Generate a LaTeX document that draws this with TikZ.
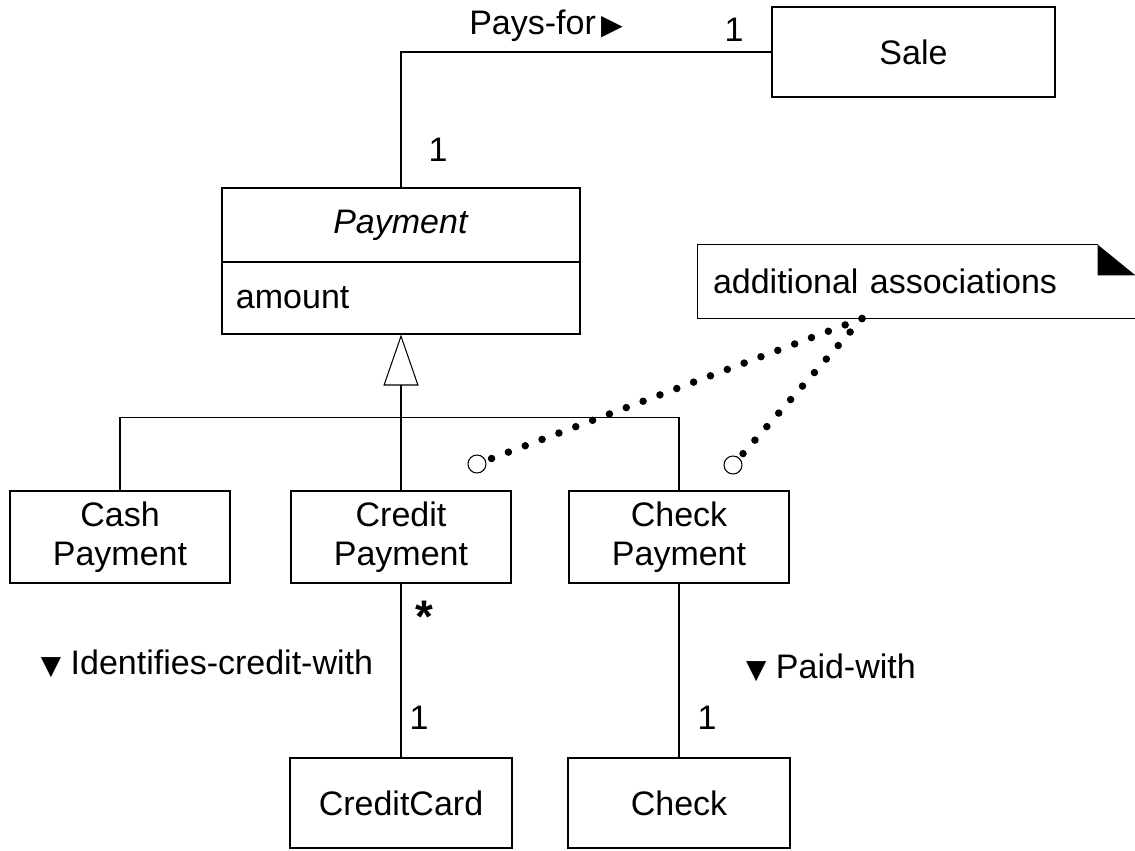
\documentclass[tikz,border=0pt]{standalone}
\usepackage{fontspec}
\setmainfont{Liberation Sans}
\newfontfamily\trifont{DejaVu Sans}
\usetikzlibrary{arrows.meta}
\tikzstyle{classbox} = [rectangle, text centered, draw=black, minimum width=4.4cm, minimum height=1.84cm, align=center]
\tikzstyle{titlebox} = [rectangle, text centered, draw=black, minimum width=7.16cm, minimum height=1.48cm]
\tikzstyle{attrbox} = [rectangle, draw=black, minimum width=7.16cm, minimum height=1.44cm, text width=6.6cm, align=left]
\tikzstyle{notebox} = [rectangle, minimum height=1.46cm, text width=8.14cm, inner xsep=0.3cm, align=left]
\tikzstyle{hole} = [circle, draw=black, fill=white, minimum size=0.36cm, inner sep=0pt]
\tikzstyle{mult} = [inner sep=0pt]
\tikzstyle{genarrow} = [-{Triangle[open, length=1.02cm, width=0.7cm]}]
\tikzstyle{notelink} = [line width=0.15cm, line cap=round, dash pattern=on 0pt off 0.36cm]
\newcommand{\rtri}{\kern3pt{\trifont\fontsize{16pt}{16pt}\selectfont ▶}}
\newcommand{\dtri}{{\trifont\fontsize{15pt}{15pt}\selectfont ▼}}

\begin{document}
\begin{tikzpicture}[node distance=1cm, line width=0.6pt, font=\fontsize{19.35pt}{22.2pt}\selectfont]

\useasboundingbox (-8.02,4.5) rectangle (14.68,-12.5);

\node (payment) [titlebox] {\textit{Payment}};
\node (payattr) [attrbox, below of=payment, yshift=-0.46cm] {amount};

\node (sale) [classbox, above of=payment, xshift=10.25cm, yshift=2.46cm, minimum width=5.66cm, minimum height=1.8cm] {Sale};

\node (credit) [classbox, below of=payattr, yshift=-3.78cm] {Credit\\Payment};
\node (cash) [classbox, left of=credit, xshift=-4.62cm] {Cash\\Payment};
\node (checkpay) [classbox, right of=credit, xshift=4.56cm] {Check\\Payment};

\node (creditcard) [classbox, below of=credit, yshift=-4.32cm, minimum width=4.44cm, minimum height=1.8cm] {CreditCard};
\node (check) [classbox, below of=checkpay, yshift=-4.32cm, minimum width=4.44cm, minimum height=1.8cm] {Check};

\node (note) [notebox, right of=payment, xshift=9.31cm, yshift=-1.13cm] {additional associations};

\node (circA) [hole, above of=credit, xshift=1.52cm, yshift=0.46cm] {};
\node (circB) [hole, above of=checkpay, xshift=1.08cm, yshift=0.44cm] {};

% association labels and multiplicities
\node (payfor) [mult, above of=payment, xshift=2.9cm, yshift=2.98cm] {Pays-for\rtri};
\node (salemult) [mult, left of=sale, xshift=-2.59cm, yshift=0.45cm] {1};
\node (paymult) [mult, above of=payment, xshift=0.74cm, yshift=0.5cm] {1};
\node (star) [mult, below of=credit, xshift=0.46cm, yshift=-0.6cm] {\fontsize{26pt}{26pt}\selectfont\textbf{*}};
\node (ccmult) [mult, above of=creditcard, xshift=0.36cm, yshift=0.7cm] {1};
\node (chkmult) [mult, above of=check, xshift=0.56cm, yshift=0.7cm] {1};
\node (identifies) [mult, left of=credit, xshift=-2.88cm, yshift=-2.54cm] {\dtri\ Identifies-credit-with};
\node (paidwith) [mult, right of=checkpay, xshift=2.04cm, yshift=-2.62cm] {\dtri\ Paid-with};

\coordinate (bus) at ([yshift=-1.66cm]payattr.south);
\coordinate (fold) at ([xshift=-0.76cm]note.north east);
\coordinate (tail) at ([xshift=-1.09cm]note.south);

\draw (payment.north) |- (sale.west);
\draw [genarrow] (bus) -- (payattr.south);
\draw (bus) -| (cash.north);
\draw (bus) -- (credit.north);
\draw (bus) -| (checkpay.north);
\draw (credit) -- (creditcard);
\draw (checkpay) -- (check);

\draw (fold) -| (note.south west) -- (note.south east);
\fill (fold) -- ++(0,-0.62) -- ++(0.76,0) -- cycle;
\draw [notelink] (tail) -- (circA);
\draw [notelink] (tail) -- (circB);

\end{tikzpicture}
\end{document}
